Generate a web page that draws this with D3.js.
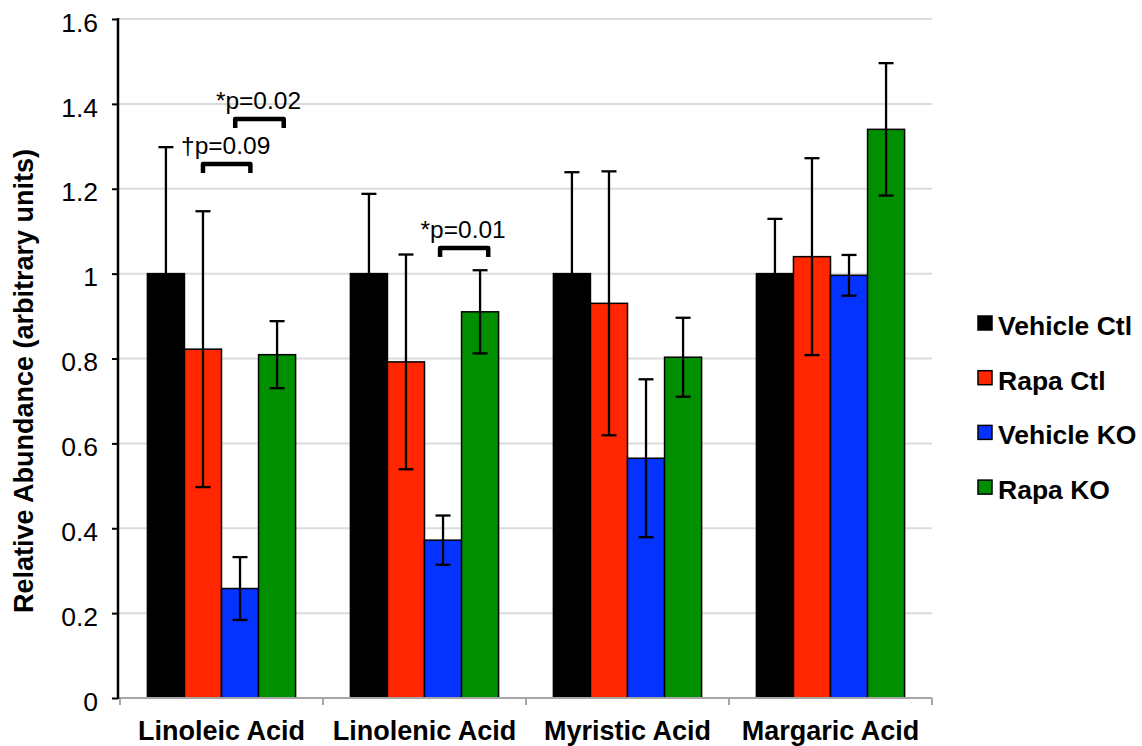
<!DOCTYPE html>
<html>
<head>
<meta charset="utf-8">
<script src="https://cdn.jsdelivr.net/npm/d3@7/dist/d3.min.js"></script>
<style>
  html, body { margin: 0; padding: 0; background: #fff; }
  svg { display: block; font-family: "Liberation Sans", Arial, Helvetica, sans-serif; }
</style>
</head>
<body>
<svg id="chart" width="1142" height="746"></svg>
<script>
// ---- data ----
const categories = ["Linoleic Acid", "Linolenic Acid", "Myristic Acid", "Margaric Acid"];
const seriesNames = ["Vehicle Ctl", "Rapa Ctl", "Vehicle KO", "Rapa KO"];
const seriesColors = ["#000000", "#ff2600", "#0433ff", "#008f00"];

const vehicleCtl    = [1.000, 1.000, 1.000, 1.000];
const vehicleCtlErr = [0.298, 0.188, 0.239, 0.129];
const rapaCtl       = [0.822, 0.792, 0.930, 1.040];
const rapaCtlErr    = [0.325, 0.253, 0.311, 0.232];
const vehicleKO     = [0.258, 0.372, 0.565, 0.996];
const vehicleKOErr  = [0.074, 0.058, 0.186, 0.048];
const rapaKO        = [0.809, 0.910, 0.803, 1.340];
const rapaKOErr     = [0.079, 0.098, 0.093, 0.156];

const yTicks = [0, 0.2, 0.4, 0.6, 0.8, 1.0, 1.2, 1.4, 1.6];
const yTickLabels = ["0", "0.2", "0.4", "0.6", "0.8", "1", "1.2", "1.4", "1.6"];

// significance annotations: category, from-series, to-series, bracket height, label
const annCategory = ["Linoleic Acid", "Linoleic Acid", "Linolenic Acid"];
const annFrom     = ["Rapa Ctl", "Vehicle KO", "Vehicle KO"];
const annTo       = ["Vehicle KO", "Rapa KO", "Rapa KO"];
const annY        = [1.263, 1.369, 1.065];
const annLabel    = ["\u2020p=0.09", "*p=0.02", "*p=0.01"];

const values = [vehicleCtl, rapaCtl, vehicleKO, rapaKO];
const errors = [vehicleCtlErr, rapaCtlErr, vehicleKOErr, rapaKOErr];

// ---- layout ----
const svg = d3.select("#chart");
const pLeft = 120, pRight = 932, pTop = 19, pBottom = 698;

const y = d3.scaleLinear().domain([0, 1.6]).range([pBottom, pTop]);
const x0 = d3.scaleBand().domain(categories).range([pLeft, pRight])
  .paddingInner(0.27).paddingOuter(0.135);
const x1 = d3.scaleBand().domain(seriesNames).range([0, x0.bandwidth()]);
const color = d3.scaleOrdinal().domain(seriesNames).range(seriesColors);

const rows = [];
categories.forEach((c, ci) => {
  seriesNames.forEach((s, si) => {
    rows.push({cat: c, series: s, v: values[si][ci], e: errors[si][ci]});
  });
});

// gridlines
svg.append("g").selectAll("line").data(yTicks.filter(d => d > 0)).join("line")
  .attr("x1", pLeft - 2).attr("x2", pRight)
  .attr("y1", d => y(d)).attr("y2", d => y(d))
  .attr("stroke", "#dcdcdc").attr("stroke-width", 2);

// bars
svg.append("g").selectAll("rect").data(rows).join("rect")
  .attr("x", d => x0(d.cat) + x1(d.series))
  .attr("y", d => y(d.v))
  .attr("width", x1.bandwidth())
  .attr("height", d => y(0) - y(d.v))
  .attr("fill", d => color(d.series))
  .attr("stroke", "#000").attr("stroke-width", 1.5);

// error bars
const eg = svg.append("g").attr("stroke", "#000").attr("stroke-width", 2.3);
const cap = 7.5;
rows.forEach(d => {
  const cx = x0(d.cat) + x1(d.series) + x1.bandwidth() / 2;
  eg.append("line").attr("x1", cx).attr("x2", cx)
    .attr("y1", y(d.v - d.e)).attr("y2", y(d.v + d.e));
  eg.append("line").attr("x1", cx - cap).attr("x2", cx + cap)
    .attr("y1", y(d.v + d.e)).attr("y2", y(d.v + d.e));
  eg.append("line").attr("x1", cx - cap).attr("x2", cx + cap)
    .attr("y1", y(d.v - d.e)).attr("y2", y(d.v - d.e));
});

// x axis (gray)
const xa = svg.append("g");
xa.append("line").attr("x1", pLeft - 2).attr("x2", pRight).attr("y1", pBottom).attr("y2", pBottom)
  .attr("stroke", "#a6a6a6").attr("stroke-width", 2);
const bounds = categories.map(c => x0(c) - x0.step() * x0.paddingInner() / 2);
bounds.push(pRight);
bounds[0] = pLeft;
xa.selectAll("line.t").data(bounds).join("line").attr("class", "t")
  .attr("x1", d => d).attr("x2", d => d).attr("y1", pBottom).attr("y2", pBottom + 7)
  .attr("stroke", "#a6a6a6").attr("stroke-width", 2);
xa.selectAll("text").data(categories).join("text")
  .attr("x", d => x0(d) + x0.bandwidth() / 2)
  .attr("y", 740)
  .attr("text-anchor", "middle")
  .attr("font-size", 27).attr("font-weight", "bold").attr("fill", "#000")
  .text(d => d);

// y axis
const yAxis = d3.axisLeft(y).tickValues(yTicks)
  .tickFormat((d, i) => yTickLabels[i]).tickSize(6).tickPadding(14);
const ya = svg.append("g").attr("transform", `translate(118,0)`).call(yAxis);
ya.select(".domain").attr("stroke", "#000").attr("stroke-width", 2.5)
  .attr("d", `M0,${pTop - 1}V${pBottom + 1}`);
ya.selectAll(".tick line").attr("stroke", "#000").attr("stroke-width", 2);
ya.selectAll(".tick text").attr("font-size", 26.5).attr("fill", "#000")
  .attr("font-family", "'Liberation Sans', Arial, sans-serif")
  .attr("dy", "0.46em");

// y label
svg.append("text")
  .attr("transform", "translate(33,381) rotate(-90)")
  .attr("text-anchor", "middle")
  .attr("font-size", 27).attr("font-weight", "bold").attr("fill", "#000")
  .text("Relative Abundance (arbitrary units)");

// significance brackets
const fromFrac = [0.5, 0.37, 0.42];
const toFrac   = [0.78, 0.68, 0.72];
annLabel.forEach((lab, i) => {
  const bx = x0(annCategory[i]);
  const xa1 = bx + x1(annFrom[i]) + x1.bandwidth() * fromFrac[i];
  const xa2 = bx + x1(annTo[i]) + x1.bandwidth() * toFrac[i];
  const yy = y(annY[i]) + 2;
  svg.append("path")
    .attr("d", `M${xa1},${yy + 9}V${yy}H${xa2}V${yy + 9}`)
    .attr("fill", "none").attr("stroke", "#000").attr("stroke-width", 4.5)
    .attr("stroke-linejoin", "round");
  svg.append("text")
    .attr("x", (xa1 + xa2) / 2 - 1).attr("y", yy - 10)
    .attr("text-anchor", "middle").attr("font-size", 24.5).attr("fill", "#000")
    .text(lab);
});

// legend
const lg = svg.append("g");
seriesNames.forEach((s, i) => {
  const cy = 323 + i * 54.7;
  lg.append("rect").attr("x", 978).attr("y", cy - 7).attr("width", 14).attr("height", 14)
    .attr("fill", color(s)).attr("stroke", "#000").attr("stroke-width", 1.5);
  lg.append("text").attr("x", 998).attr("y", cy + 12)
    .attr("font-size", 26.5).attr("font-weight", "bold").attr("fill", "#000")
    .text(s);
});
</script>
</body>
</html>
